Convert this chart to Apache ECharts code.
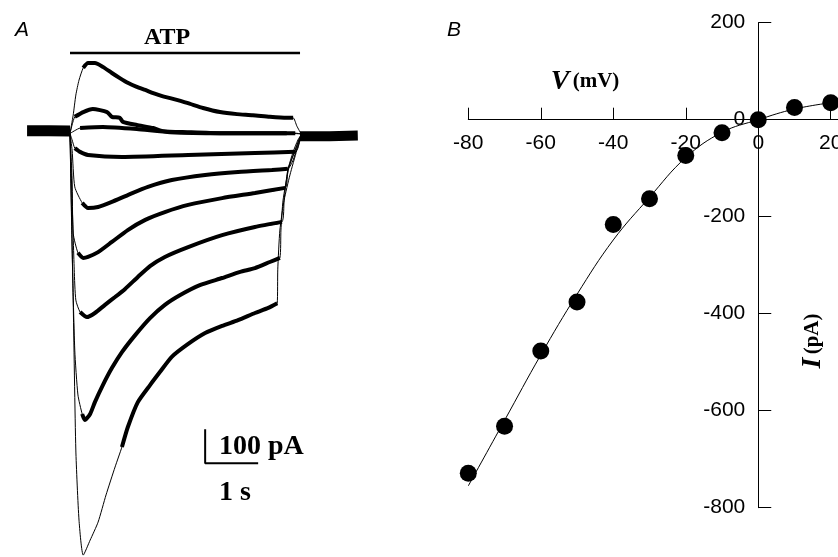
<!DOCTYPE html>
<html>
<head>
<meta charset="utf-8">
<script src="https://cdn.jsdelivr.net/npm/echarts@6/dist/echarts.min.js"></script>
<style>
  html, body { margin: 0; padding: 0; background: #fff; }
  #chart { width: 838px; height: 557px; }
</style>
</head>
<body>
<div id="chart"></div>
<script>
// ---- Panel A: ATP-evoked currents, [time (s) from ATP onset, current (pA)] ----
const sweep1 = [[0,0],[0.06,54],[0.11,113],[0.17,157],[0.25,193],[0.34,207],[0.47,207],[0.62,196],[0.79,178],[0.94,163],[1.09,149],[1.26,137],[1.42,128],[1.57,119],[1.74,110],[1.89,104],[2.21,90],[2.51,75],[2.83,63],[3.15,57],[3.45,54],[3.77,49],[4.09,46],[4.21,46],[4.28,22],[4.36,-1]];
const sweep2 = [[0,0],[0.09,49],[0.25,63],[0.43,72],[0.70,63],[0.79,49],[0.94,46],[1.00,34],[1.26,25],[1.57,16],[1.75,7],[2.21,4],[2.83,1],[3.49,1],[4.25,1],[4.36,-1]];
const sweep3 = [[0,0],[0.19,16],[0.62,19],[1.26,13],[1.89,4],[2.83,1],[4.09,1],[4.34,-1]];
const sweep4 = [[0,0],[0.04,-19],[0.09,-43],[0.19,-54],[0.34,-63],[0.98,-69],[2.23,-63],[3.49,-57],[4.25,-54],[4.30,-43],[4.36,-4]];
const sweep5 = [[0,0],[0.04,-49],[0.09,-157],[0.23,-204],[0.34,-219],[0.53,-216],[0.79,-201],[1.09,-181],[1.47,-157],[1.92,-137],[2.55,-122],[3.17,-113],[3.81,-107],[4.11,-104],[4.21,-78],[4.28,-43],[4.36,-7]];
const sweep6 = [[0,0],[0.04,-137],[0.06,-293],[0.15,-351],[0.25,-366],[0.34,-363],[0.53,-349],[0.79,-319],[1.09,-284],[1.42,-254],[1.79,-231],[2.23,-210],[2.87,-190],[3.49,-175],[4.06,-160],[4.11,-107],[4.21,-54],[4.30,-19],[4.36,-4]];
const sweep7 = [[0,0],[0.04,-196],[0.08,-401],[0.11,-490],[0.19,-525],[0.32,-540],[0.47,-528],[0.66,-504],[0.85,-481],[1.04,-457],[1.28,-422],[1.51,-390],[1.79,-363],[2.23,-334],[2.87,-299],[3.49,-275],[4.00,-260],[4.04,-196],[4.11,-107],[4.25,-49],[4.34,-10]];
const sweep8 = [[0,0],[0.04,-343],[0.09,-637],[0.15,-769],[0.23,-825],[0.28,-843],[0.38,-825],[0.47,-790],[0.62,-740],[0.79,-690],[0.98,-643],[1.23,-593],[1.51,-543],[1.79,-504],[2.08,-475],[2.45,-446],[2.87,-425],[3.21,-407],[3.49,-396],[3.77,-378],[3.96,-366],[3.98,-284],[4.02,-196],[4.13,-101],[4.26,-43],[4.34,-10]];
const sweep9 = [[0,0],[0.06,-490],[0.11,-931],[0.17,-1137],[0.25,-1240],[0.38,-1196],[0.53,-1143],[0.68,-1063],[0.85,-981],[0.98,-922],[1.09,-864],[1.28,-790],[1.51,-740],[1.70,-701],[1.92,-657],[2.23,-619],[2.55,-587],[2.87,-566],[3.17,-549],[3.49,-528],[3.74,-513],[3.91,-499],[3.92,-401],[3.96,-284],[4.04,-196],[4.15,-122],[4.28,-49],[4.36,-10]];
const sweeps = [sweep1, sweep2, sweep3, sweep4, sweep5, sweep6, sweep7, sweep8, sweep9];
// first and last point index of the slow (noisy) part of each sweep
const slowSpan = [[4,23],[1,14],[1,6],[2,8],[3,13],[3,14],[4,16],[4,20],[9,21]];
const baselineBefore = [[-0.81,8],[-0.40,8],[0,7]];
const baselineAfter = [[4.34,-8],[4.90,-8],[5.43,-6]];
const atpApplication = [[0,237],[4.34,237]];
const scaleBarOrigin = [2.55, -970];
const scaleBarCurrent = 100; // pA
const scaleBarTime = 1;      // s

// ---- Panel B: current-voltage relation ----
const voltage = [-80, -70, -60, -50, -40, -30, -20, -10, 0, 10, 20];
const current = [-729, -632, -477, -376, -216, -163, -74, -27, 0, 25, 35];
const fitVoltage = [-80, -70, -60, -50, -40, -30, -20, -10, 0, 10, 20];
const fitCurrent = [-755, -620, -485, -360, -248, -160, -78, -26, 0, 22, 35];

const serif = "'Liberation Serif', 'DejaVu Serif', serif";
const sans = "'Liberation Sans', Arial, sans-serif";

// panel B frame: the axes cross at V = 0, I = 0
const gridB = { left: 468.3, top: 22.7, width: 371.5, height: 485 };
const vRange = [-80, 22.5];
const iRange = [-800, 200];
const yAxisShift = (0 - vRange[0]) / (vRange[1] - vRange[0]) * gridB.width;   // from left edge
const xAxisShift = (0 - iRange[0]) / (iRange[1] - iRange[0]) * gridB.height;  // from bottom edge

const chart = echarts.init(document.getElementById('chart'), null, { renderer: 'canvas' });

const traceSeries = [];
const lineA = (data, width, smooth) => ({
  type: 'line', xAxisIndex: 0, yAxisIndex: 0, data: data, showSymbol: false,
  symbol: 'none', silent: true, animation: false, smooth: smooth || false,
  lineStyle: { color: '#000', width: width }
});
traceSeries.push(lineA(baselineBefore, 11));
traceSeries.push(lineA(baselineAfter, 10));
sweeps.forEach((s, i) => {
  traceSeries.push(lineA(s, 1, 0.2));
  traceSeries.push(lineA(s.slice(slowSpan[i][0], slowSpan[i][1] + 1), 4, 0.2));
});
traceSeries.push(lineA(atpApplication, 2.5));
traceSeries.push(lineA([
  [scaleBarOrigin[0], scaleBarOrigin[1] + scaleBarCurrent],
  scaleBarOrigin,
  [scaleBarOrigin[0] + scaleBarTime, scaleBarOrigin[1]]
], 2));

const option = {
  animation: false,
  backgroundColor: '#fff',
  grid: [
    { left: 17, top: 4.3, width: 397.5, height: 564.4, outerBoundsMode: 'none', containLabel: false },
    Object.assign({ outerBoundsMode: 'none', containLabel: false }, gridB)
  ],
  xAxis: [
    { gridIndex: 0, type: 'value', min: -1, max: 6.5, show: false },
    {
      gridIndex: 1, type: 'value', min: vRange[0], max: vRange[1], interval: 20,
      position: 'bottom', offset: -xAxisShift,
      axisLine: { onZero: false, lineStyle: { color: '#000', width: 1 } },
      axisTick: { inside: true, length: 12, lineStyle: { color: '#000' } },
      axisLabel: {
        margin: 13, color: '#000', fontFamily: sans, fontSize: 21,
        formatter: v => (v % 20 === 0 ? String(v) : '')
      },
      splitLine: { show: false }
    }
  ],
  yAxis: [
    { gridIndex: 0, type: 'value', min: -1280, max: 380, show: false },
    {
      gridIndex: 1, type: 'value', min: iRange[0], max: iRange[1], interval: 200,
      position: 'left', offset: -yAxisShift,
      axisLine: { onZero: false, lineStyle: { color: '#000', width: 1 } },
      axisTick: { inside: true, length: 13, lineStyle: { color: '#000' } },
      axisLabel: { margin: 13, color: '#000', fontFamily: sans, fontSize: 21 },
      splitLine: { show: false }
    }
  ],
  series: traceSeries.concat([
    {
      type: 'line', xAxisIndex: 1, yAxisIndex: 1, smooth: 0.4, symbol: 'none',
      data: fitVoltage.map((v, i) => [v, fitCurrent[i]]),
      lineStyle: { color: '#000', width: 1 }, silent: true
    },
    {
      type: 'scatter', xAxisIndex: 1, yAxisIndex: 1, symbol: 'circle', symbolSize: 17,
      data: voltage.map((v, i) => [v, current[i]]),
      itemStyle: { color: '#000', opacity: 1 }, silent: true, clip: false
    }
  ]),
  graphic: [
    { type: 'text', x: 22, y: 30, style: { text: 'A', font: `italic 21px ${sans}`, fill: '#000', align: 'center', verticalAlign: 'middle' } },
    { type: 'text', x: 454, y: 30, style: { text: 'B', font: `italic 21px ${sans}`, fill: '#000', align: 'center', verticalAlign: 'middle' } },
    { type: 'text', x: 167, y: 38, style: { text: 'ATP', font: `bold 24px ${serif}`, fill: '#000', align: 'center', verticalAlign: 'middle' } },
    { type: 'text', x: 219, y: 447, style: { text: '100 pA', font: `bold 28px ${serif}`, fill: '#000', align: 'left', verticalAlign: 'middle' } },
    { type: 'text', x: 219, y: 493, style: { text: '1 s', font: `bold 28px ${serif}`, fill: '#000', align: 'left', verticalAlign: 'middle' } },
    {
      type: 'text', x: 585, y: 82,
      style: {
        text: '{v|V} {u|(mV)}', align: 'center', verticalAlign: 'middle', fill: '#000',
        rich: {
          v: { font: `italic bold 28px ${serif}`, fill: '#000' },
          u: { font: `bold 21px ${serif}`, fill: '#000' }
        }
      }
    },
    {
      type: 'text', x: 813, y: 341, rotation: Math.PI / 2,
      style: {
        text: '{v|I} {u|(pA)}', align: 'center', verticalAlign: 'middle', fill: '#000',
        rich: {
          v: { font: `italic bold 28px ${serif}`, fill: '#000' },
          u: { font: `bold 21px ${serif}`, fill: '#000' }
        }
      }
    }
  ]
};
chart.setOption(option);
</script>
</body>
</html>
